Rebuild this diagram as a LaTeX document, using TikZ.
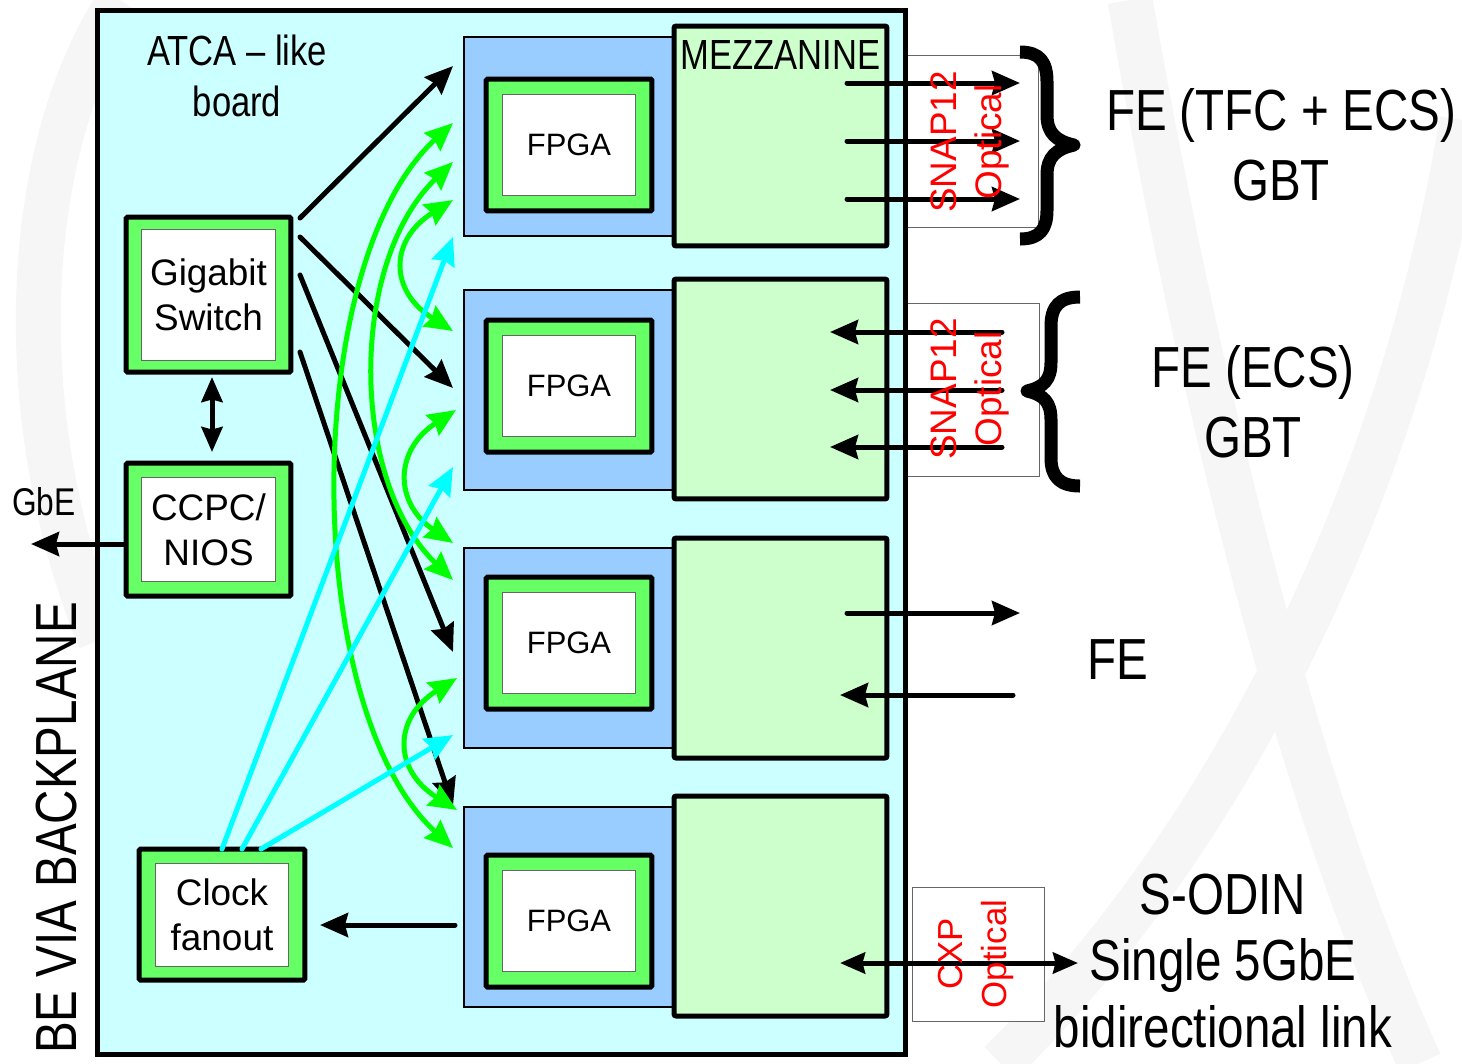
\documentclass[tikz,border=0pt]{standalone}
\usepackage{fontspec}
\setmainfont{Liberation Sans}
\newfontfamily\narrowfont[FakeStretch=0.82]{Liberation Sans}
\usetikzlibrary{arrows.meta}
\definecolor{boardcyan}{HTML}{CCFFFF}
\definecolor{carrierblue}{HTML}{99CCFF}
\definecolor{mezzgreen}{HTML}{CCFFCC}
\definecolor{chipgreen}{HTML}{66FF66}
\definecolor{arrgreen}{HTML}{00FF00}
\definecolor{arrcyan}{HTML}{00FFFF}
\definecolor{wmgray}{HTML}{F6F6F6}
\begin{document}
\begin{tikzpicture}[x=0.02cm,y=-0.02cm,
  board/.style={draw=black,fill=boardcyan,line width=0.1cm,inner sep=0pt,outer sep=0pt},
  carrier/.style={draw=black,fill=carrierblue,line width=0.04cm,minimum width=4.18cm,minimum height=4cm,inner sep=0pt},
  mezz/.style={draw=black,fill=mezzgreen,line width=0.1cm,minimum width=4.26cm,minimum height=4.4cm,inner sep=0pt,rounded corners=0.04cm},
  chipout/.style={draw=black,fill=chipgreen,line width=0.1cm,inner sep=0pt,rounded corners=0.03cm},
  chipin/.style={draw=black!60,fill=white,line width=0.02cm,inner sep=0pt,align=center,font=\fontsize{21}{25.5}\selectfont},
  fpgatxt/.style={chipin,font=\fontsize{17.6}{21}\selectfont},
  optbox/.style={draw=black!60,fill=white,line width=0.02cm},
  redtxt/.style={rotate=90,text=red,align=center,inner sep=0pt,font=\fontsize{21}{25.5}\selectfont},
  bigtxt/.style={align=center,inner sep=0pt,font=\narrowfont\fontsize{33}{39.7}\selectfont},
  midtxt/.style={align=center,inner sep=0pt,font=\narrowfont\fontsize{24}{29.5}\selectfont},
  blk/.style={draw=black,line width=0.1cm,line cap=round,-{Stealth[length=0.56cm,width=0.48cm,inset=0.06cm]}},
  blkdbl/.style={draw=black,line width=0.1cm,{Stealth[length=0.5cm,width=0.42cm,inset=0.05cm]}-{Stealth[length=0.5cm,width=0.42cm,inset=0.05cm]}},
  grn/.style={draw=arrgreen,line width=0.1cm,{Stealth[length=0.56cm,width=0.48cm,inset=0.06cm]}-{Stealth[length=0.56cm,width=0.48cm,inset=0.06cm]}},
  cyn/.style={draw=arrcyan,line width=0.1cm,line cap=round,-{Stealth[length=0.56cm,width=0.48cm,inset=0.06cm]}},
  brace/.style={draw=black,line width=0.26cm,line cap=butt,line join=round},
  wm/.style={draw=wmgray,line width=0.9cm}
]
\useasboundingbox (0,0) rectangle (1462,1063);
% faint watermark
\draw[wm] (120,0) .. controls (20,150) and (10,420) .. (100,640);
\draw[wm] (1130,0) .. controls (1200,400) and (1300,800) .. (1420,1063);
\draw[wm] (1462,120) .. controls (1400,500) and (1220,850) .. (1000,1063);
% optical boxes
\draw[optbox] (906,55) rectangle (1038,227);
\draw[optbox] (906,303) rectangle (1039,476);
\draw[optbox] (912,887) rectangle (1044,1021);
% board
\node[board,minimum width=16.18cm,minimum height=20.9cm] (board) at (501.5,532.5) {};
% carriers
\node[carrier] (car1) at (568.5,136.5) {};
\node[carrier] (car2) at (568.5,390) {};
\node[carrier] (car3) at (568.5,647.5) {};
\node[carrier] (car4) at (568.5,906.5) {};
% mezzanines
\node[mezz] (mez1) at (780.5,136) {};
\node[mezz] (mez2) at (780.5,389) {};
\node[mezz] (mez3) at (780.5,648) {};
\node[mezz] (mez4) at (780.5,906) {};
% FPGAs
\node[chipout,minimum width=3.32cm,minimum height=2.64cm] (f1o) at (569,145) {};
\node[fpgatxt,minimum width=2.68cm,minimum height=2.02cm] (f1) at (569,145) {FPGA};
\node[chipout,minimum width=3.32cm,minimum height=2.64cm] (f2o) at (569,386) {};
\node[fpgatxt,minimum width=2.68cm,minimum height=2.02cm] (f2) at (569,386) {FPGA};
\node[chipout,minimum width=3.32cm,minimum height=2.64cm] (f3o) at (569,643) {};
\node[fpgatxt,minimum width=2.68cm,minimum height=2.02cm] (f3) at (569,643) {FPGA};
\node[chipout,minimum width=3.32cm,minimum height=2.64cm] (f4o) at (569,921) {};
\node[fpgatxt,minimum width=2.68cm,minimum height=2.02cm] (f4) at (569,921) {FPGA};
% left blocks
\node[chipout,minimum width=3.3cm,minimum height=3.1cm] (swo) at (208.5,294.5) {};
\node[chipin,minimum width=2.7cm,minimum height=2.62cm] (sw) at (208.5,294.5) {Gigabit\\Switch};
\node[chipout,minimum width=3.3cm,minimum height=2.66cm] (ccpco) at (208.5,529.5) {};
\node[chipin,minimum width=2.7cm,minimum height=2.08cm] (ccpc) at (208.5,529.5) {CCPC/\\NIOS};
\node[chipout,minimum width=3.32cm,minimum height=2.62cm] (clko) at (222,914.5) {};
\node[chipin,minimum width=2.68cm,minimum height=2.06cm] (clk) at (222,914.5) {Clock\\fanout};
% coordinates
\coordinate (swA) at (300,218); \coordinate (swB) at (300,237);
\coordinate (swC) at (300,275); \coordinate (swD) at (300,352);
\coordinate (t1) at (453,66);  \coordinate (t2) at (453,388);
\coordinate (t3) at (453,652); \coordinate (t4) at (453,806);
\coordinate (ckA) at (222,849); \coordinate (ckB) at (242,849); \coordinate (ckC) at (261,849);
\coordinate (c1) at (453,237); \coordinate (c2) at (453,467); \coordinate (c3) at (453,735);
\coordinate (gA1) at (453,123); \coordinate (gA2) at (453,848);
\coordinate (gB1) at (453,162); \coordinate (gB2) at (453,580);
\coordinate (gC1) at (453,200); \coordinate (gC2) at (453,331);
\coordinate (gD1) at (456,410); \coordinate (gD2) at (453,543);
\coordinate (gE1) at (457,678); \coordinate (gE2) at (457,810);
\coordinate (swbot) at (212,377); \coordinate (cctop) at (212,452);
\coordinate (ccl) at (125,544); \coordinate (gbe) at (31,544);
\coordinate (f4l) at (455,925); \coordinate (clkr) at (320,925);
% black arrows switch -> FPGAs
\draw[blk] (swA) -- (t1);
\draw[blk] (swB) -- (t2);
\draw[blk] (swC) -- (t3);
\draw[blk] (swD) -- (t4);
% green curved links
\draw[grn] (gA1) .. controls (300,263) and (300,708) .. (gA2);
\draw[grn] (gB1) .. controls (349,262) and (349,480) .. (gB2);
\draw[grn] (gC1) .. controls (389,240) and (389,291) .. (gC2);
\draw[grn] (gD1) .. controls (394,450) and (394,503) .. (gD2);
\draw[grn] (gE1) .. controls (393,718) and (393,770) .. (gE2);
% cyan clock lines
\draw[cyn] (ckA) -- (c1);
\draw[cyn] (ckB) -- (c2);
\draw[cyn] (ckC) -- (c3);
% misc black
\draw[blkdbl] (swbot) -- (cctop);
\draw[blk] (ccl) -- (gbe);
\draw[blk] (f4l) -- (clkr);
% mezzanine optical arrows
\coordinate (m1a) at (847,83);  \coordinate (o1a) at (1020,83);
\coordinate (m1b) at (847,141); \coordinate (o1b) at (1020,141);
\coordinate (m1c) at (847,199); \coordinate (o1c) at (1020,199);
\coordinate (o2a) at (1002,332); \coordinate (m2a) at (830,332);
\coordinate (o2b) at (1002,390); \coordinate (m2b) at (830,390);
\coordinate (o2c) at (1002,447); \coordinate (m2c) at (830,447);
\coordinate (m3a) at (847,613); \coordinate (o3a) at (1020,613);
\coordinate (o3b) at (1013,695); \coordinate (m3b) at (840,695);
\coordinate (m4) at (840,963); \coordinate (o4) at (1078,963);
\draw[blk] (m1a) -- (o1a);
\draw[blk] (m1b) -- (o1b);
\draw[blk] (m1c) -- (o1c);
\draw[blk] (o2a) -- (m2a);
\draw[blk] (o2b) -- (m2b);
\draw[blk] (o2c) -- (m2c);
\draw[blk] (m3a) -- (o3a);
\draw[blk] (o3b) -- (m3b);
\draw[blkdbl] (m4) -- (o4);
% red optical labels
\node[redtxt] (snap1) at (970,142) {SNAP12\\Optical};
\node[redtxt] (snap2) at (970,389) {SNAP12\\Optical};
\node[redtxt,font=\fontsize{19.8}{25.5}\selectfont] (cxp) at (976,954) {CXP\\Optical};
% braces
\draw[brace] (1020,52) .. controls (1040,52) and (1047,62) .. (1047,82) -- (1047,115)
  .. controls (1047,133) and (1056,141) .. (1074,145)
  .. controls (1056,149) and (1047,157) .. (1047,175) -- (1047,210)
  .. controls (1047,229) and (1040,239) .. (1020,239);
\draw[brace] (1080,297) .. controls (1060,297) and (1051,306) .. (1051,326) -- (1051,362)
  .. controls (1051,380) and (1044,387) .. (1027,391)
  .. controls (1044,395) and (1051,402) .. (1051,420) -- (1051,458)
  .. controls (1051,477) and (1060,486) .. (1080,486);
% texts
\node[midtxt] (atca) at (237,76) {ATCA – like\\board};
\node[midtxt,anchor=west] (mezlbl) at (680,55) {MEZZANINE};
\node[bigtxt] (fe1) at (1281,145) {FE (TFC + ECS)\\GBT};
\node[bigtxt] (fe2) at (1253,402) {FE (ECS)\\GBT};
\node[bigtxt] (fe3) at (1118,660) {FE};
\node[bigtxt,font=\narrowfont\fontsize{33}{38}\selectfont] (sodin) at (1223,961) {S-ODIN\\Single 5GbE\\bidirectional link};
\node[inner sep=0pt,font=\narrowfont\fontsize{22}{26}\selectfont] (gbetxt) at (44,502) {GbE};
\node[bigtxt,rotate=90] (bevia) at (57,828) {BE VIA BACKPLANE};
\end{tikzpicture}
\end{document}
